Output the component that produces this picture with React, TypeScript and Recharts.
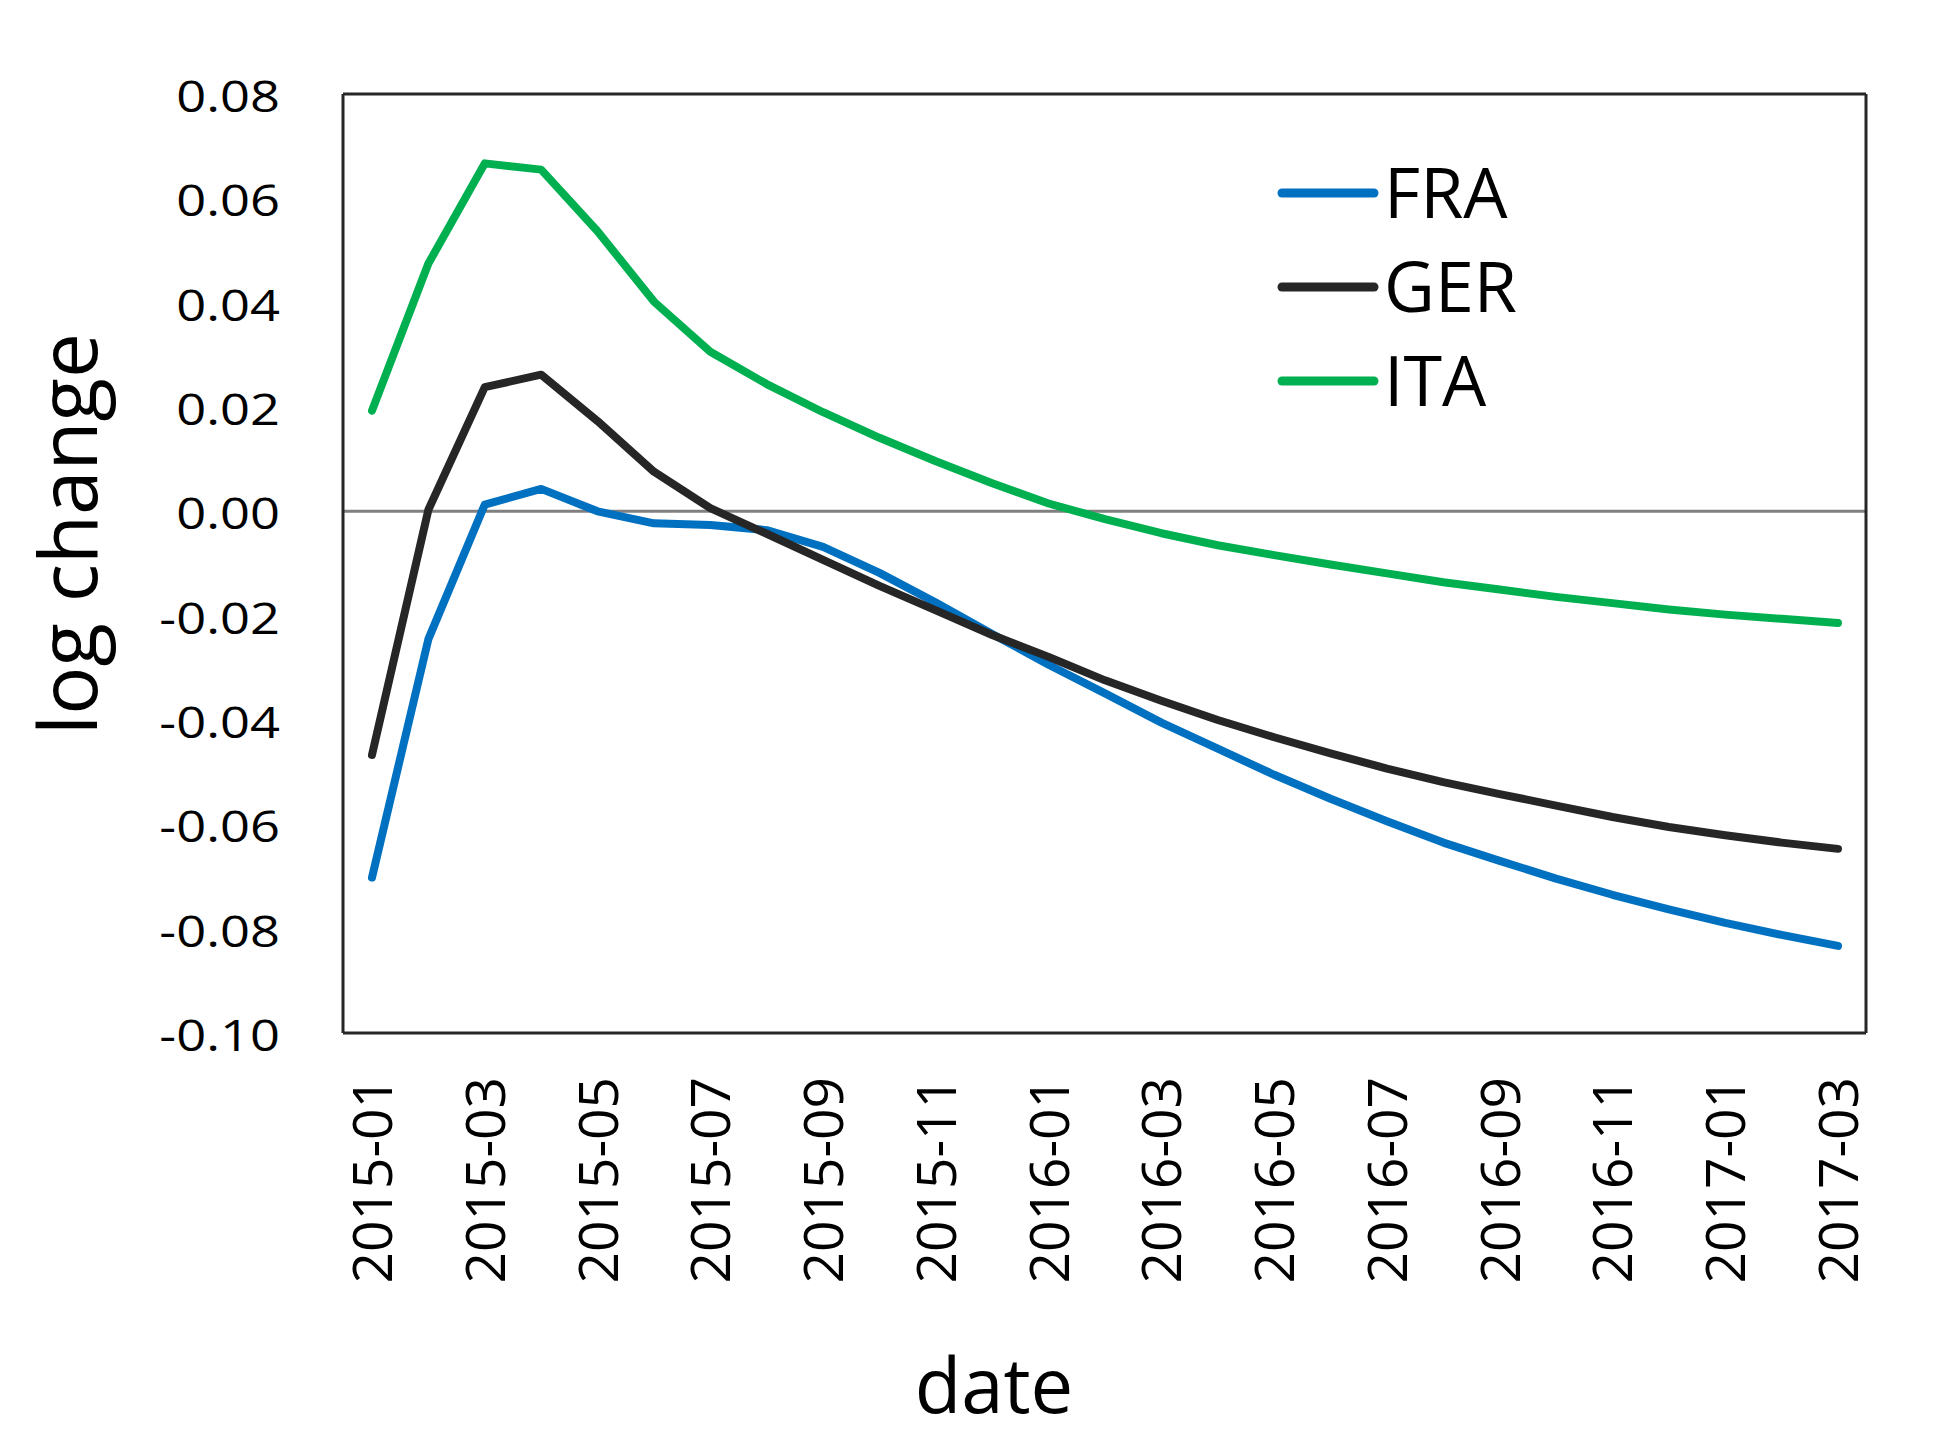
import React from "react";
import { LineChart, Line, XAxis, YAxis, ReferenceLine, Legend, Label } from "recharts";

const months = [
  "2015-01", "2015-02", "2015-03", "2015-04", "2015-05", "2015-06", "2015-07", "2015-08", "2015-09",
  "2015-10", "2015-11", "2015-12", "2016-01", "2016-02", "2016-03", "2016-04", "2016-05", "2016-06",
  "2016-07", "2016-08", "2016-09", "2016-10", "2016-11", "2016-12", "2017-01", "2017-02", "2017-03",
];

const fra = [
  -0.0702, -0.0245, 0.0013, 0.0043, 0.0, -0.0023, -0.0026, -0.0036, -0.0068,
  -0.0118, -0.0175, -0.0235, -0.0294, -0.0349, -0.0405, -0.0455, -0.0505, -0.0551,
  -0.0594, -0.0635, -0.067, -0.0704, -0.0735, -0.0763, -0.0789, -0.0812, -0.0833,
];

const ger = [
  -0.0467, 0.0003, 0.0238, 0.0262, 0.0173, 0.0076, 0.0006, -0.0043, -0.0093,
  -0.0143, -0.019, -0.0237, -0.0279, -0.0324, -0.0363, -0.04, -0.0433, -0.0464,
  -0.0493, -0.0519, -0.0542, -0.0564, -0.0586, -0.0605, -0.0621, -0.0635, -0.0647,
];

const ita = [
  0.0193, 0.0475, 0.0667, 0.0655, 0.0537, 0.0402, 0.0306, 0.0244, 0.019,
  0.0141, 0.0096, 0.0054, 0.0015, -0.0015, -0.0042, -0.0065, -0.0084, -0.0102,
  -0.0119, -0.0136, -0.015, -0.0164, -0.0176, -0.0188, -0.0198, -0.0206, -0.0214,
];

const yTicks = [-0.1, -0.08, -0.06, -0.04, -0.02, 0, 0.02, 0.04, 0.06, 0.08];

const series = [
  { key: "FRA", color: "#0070C0" },
  { key: "GER", color: "#262626" },
  { key: "ITA", color: "#00B050" },
];

const data = months.map((m, i) => ({ date: m, FRA: fra[i], GER: ger[i], ITA: ita[i] }));

const FONT = "'Open Sans', sans-serif";
const BORDER = "#262626";

function YTick(props: any) {
  const { x, y, payload } = props;
  return (
    <text
      x={0}
      y={0}
      transform={`translate(${x} ${y + 18}) scale(1.22 1)`}
      textAnchor="end"
      fontFamily={FONT}
      fontSize={43}
      fill="#000"
    >
      {payload.value.toFixed(2)}
    </text>
  );
}

function XTick(props: any) {
  const { x, y, payload } = props;
  return (
    <text
      x={0}
      y={0}
      transform={`translate(${x + 20} ${y}) rotate(-90)`}
      textAnchor="end"
      fontFamily={FONT}
      fontSize={55}
      fill="#000"
    >
      {payload.value}
    </text>
  );
}

function LegendBox(props: any) {
  const items = props.payload || [];
  return (
    <svg width={420} height={320} style={{ overflow: "visible", display: "block" }}>
      {items.map((item: any, i: number) => {
        const cy = 40 + i * 94;
        return (
          <g key={item.value}>
            <line x1={16} y1={cy} x2={108} y2={cy} stroke={item.color} strokeWidth={9} strokeLinecap="round" />
            <text x={118} y={cy + 25} fontFamily={FONT} fontSize={70} fill="#000">
              {item.value}
            </text>
          </g>
        );
      })}
    </svg>
  );
}

export default function App() {
  return (
    <div style={{ position: "absolute", left: 0, top: 0, width: 1946, height: 1452, background: "#fff" }}>
      <LineChart
        width={1946}
        height={1452}
        data={data}
        margin={{ top: 94, right: 79, bottom: 169, left: 0 }}
      >
        <XAxis
          xAxisId="bottom"
          dataKey="date"
          height={250}
          interval={1}
          padding={{ left: 29, right: 28 }}
          tickSize={0}
          tickMargin={44}
          tick={<XTick />}
          axisLine={{ stroke: BORDER, strokeWidth: 3 }}
          tickLine={false}
        >
          <Label
            content={() => (
              <text x={994} y={1413} textAnchor="middle" fontFamily={FONT} fontSize={76} fill="#000">
                date
              </text>
            )}
          />
        </XAxis>
        <YAxis
          yAxisId="left"
          width={343}
          domain={[-0.1, 0.08]}
          ticks={yTicks}
          interval={0}
          tickSize={0}
          tickMargin={63}
          tick={<YTick />}
          axisLine={{ stroke: BORDER, strokeWidth: 3 }}
          tickLine={false}
        >
          <Label
            content={() => (
              <text
                x={0}
                y={0}
                transform="translate(97 534) rotate(-90)"
                textAnchor="middle"
                fontFamily={FONT}
                fontSize={80}
                fill="#000"
              >
                log change
              </text>
            )}
          />
        </YAxis>
        <YAxis
          yAxisId="right"
          orientation="right"
          width={1}
          domain={[-0.1, 0.08]}
          ticks={yTicks}
          tick={false}
          tickLine={false}
          axisLine={{ stroke: BORDER, strokeWidth: 3 }}
        />
        <ReferenceLine xAxisId="bottom" yAxisId="left" y={0.08} stroke={BORDER} strokeWidth={3} />
        <ReferenceLine xAxisId="bottom" yAxisId="left" y={0} stroke="#808080" strokeWidth={3} />
        <Legend
          layout="vertical"
          align="center"
          verticalAlign="middle"
          content={<LegendBox />}
          wrapperStyle={{ position: "absolute", left: 1266, top: 153, width: 420, height: 320 }}
        />
        {series.map((s) => (
          <Line
            key={s.key}
            xAxisId="bottom"
            yAxisId="left"
            type="linear"
            dataKey={s.key}
            stroke={s.color}
            strokeWidth={8}
            strokeLinecap="round"
            strokeLinejoin="round"
            dot={false}
            activeDot={false}
            isAnimationActive={false}
          />
        ))}
      </LineChart>
    </div>
  );
}
